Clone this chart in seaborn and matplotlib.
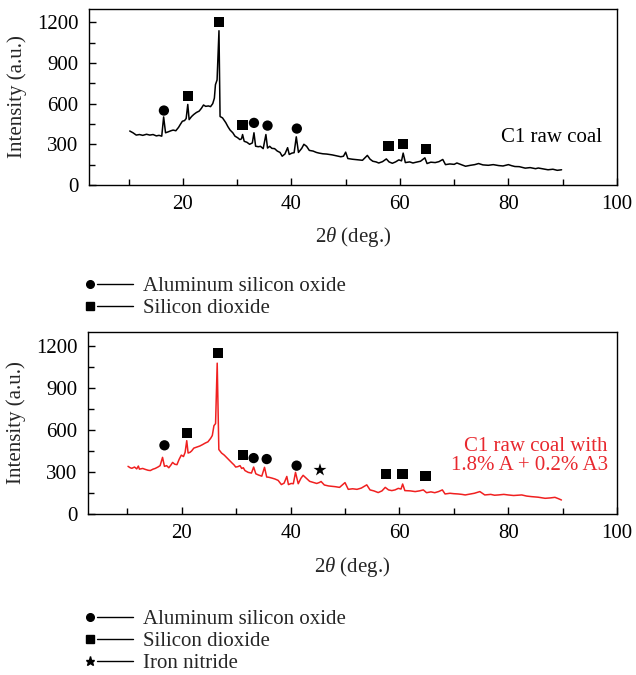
import numpy as np
import pandas as pd
import matplotlib
matplotlib.use("Agg")
import matplotlib.pyplot as plt
import seaborn as sns
from matplotlib.lines import Line2D
from matplotlib.legend_handler import HandlerBase
from matplotlib.ticker import MultipleLocator, FixedLocator

# ---------------- data ----------------
raw_x = [10.2, 10.8, 11.4, 12.0, 12.6, 13.3, 13.9, 14.5, 15.1, 15.6, 16.1, 16.45, 16.8, 17.3, 17.8, 18.2,
         18.7, 19.2, 19.5, 19.9, 20.3, 20.6, 20.9, 21.15, 21.6, 22.0, 22.5, 23.0, 23.4, 23.8, 24.2, 24.7,
         25.1, 25.5, 25.8, 26.0, 26.3, 26.65, 26.85, 27.3, 27.9, 28.3, 28.7, 29.2, 29.6, 30.1, 30.5, 30.8,
         31.0, 31.3, 31.8, 32.3, 32.8, 33.1, 33.4, 33.9, 34.3, 34.8, 35.3, 35.6, 36.0, 36.4, 36.9, 37.4,
         37.9, 38.3, 38.8, 39.3, 39.6, 40.1, 40.5, 40.9, 41.3, 41.9, 42.3, 42.8, 43.3, 44.0, 44.6, 45.1,
         45.8, 46.5, 47.5, 48.3, 49.1, 49.6, 50.0, 50.4, 51.2, 52.2, 53.1, 54.0, 54.5, 55.0, 55.6, 56.1,
         56.8, 57.5, 58.0, 58.6, 59.2, 59.8, 60.3, 60.6, 61.0, 61.8, 62.4, 62.9, 63.8, 64.6, 65.0, 65.7,
         66.5, 67.2, 67.9, 68.4, 69.2, 70.0, 70.5, 71.3, 72.1, 73.0, 73.8, 74.5, 75.3, 76.3, 77.2, 78.2,
         79.0, 80.0, 80.6, 81.2, 82.0, 83.1, 84.0, 85.0, 85.5, 86.5, 87.3, 88.2, 89.0, 89.8]
raw_y = [398, 385, 368, 372, 366, 374, 368, 372, 362, 366, 360, 502, 385, 392, 400, 405,
         400, 425, 445, 470, 475, 490, 594, 482, 505, 520, 535, 545, 565, 590, 580, 583,
         578, 600, 640, 740, 775, 1138, 505, 495, 460, 430, 405, 385, 360, 348, 335, 340,
         372, 322, 315, 300, 310, 385, 286, 282, 285, 268, 372, 272, 285, 270, 268, 250,
         240, 212, 228, 275, 225, 235, 238, 355, 240, 270, 300, 285, 255, 250, 240, 235,
         230, 228, 222, 215, 208, 212, 242, 195, 190, 186, 182, 218, 190, 175, 170, 162,
         172, 192, 170, 160, 170, 185, 178, 235, 165, 170, 162, 167, 175, 200, 158, 168,
         165, 172, 188, 150, 155, 152, 162, 150, 138, 145, 150, 158, 148, 145, 150, 143,
         140, 150, 142, 136, 135, 124, 128, 120, 125, 118, 112, 116, 108, 112]

add_x = [10.1, 10.5, 10.8, 11.3, 11.7, 12.0, 12.2, 12.8, 13.3, 13.8, 14.2, 14.7, 15.1, 15.6, 16.0, 16.45,
         16.8, 17.2, 17.6, 18.0, 18.3, 18.7, 19.1, 19.5, 19.9, 20.3, 20.6, 20.9, 21.15, 21.5, 21.8, 22.2,
         22.8, 23.3, 23.8, 24.3, 24.8, 25.3, 25.6, 25.9, 26.2, 26.5, 26.8, 27.3, 27.8, 28.3, 28.7, 29.2,
         29.6, 29.9, 30.3, 30.7, 31.0, 31.3, 31.6, 32.2, 32.8, 33.2, 33.6, 34.1, 34.7, 35.2, 35.6, 36.0,
         36.5, 37.1, 37.7, 38.3, 38.8, 39.3, 39.6, 40.1, 40.5, 40.9, 41.4, 41.9, 42.3, 42.9, 43.5, 44.2,
         44.8, 45.3, 45.6, 46.2, 47.0, 48.2, 49.0, 50.0, 50.6, 51.4, 52.2, 53.0, 54.0, 54.6, 55.3, 56.1,
         56.8, 57.4, 58.0, 58.6, 59.2, 59.8, 60.3, 60.6, 61.0, 62.0, 62.9, 63.7, 64.4, 65.0, 65.8, 66.5,
         67.2, 67.9, 68.4, 69.3, 70.0, 70.8, 71.5, 72.1, 73.0, 73.8, 74.8, 75.7, 76.8, 77.5, 78.2, 79.2,
         80.0, 81.0, 82.5, 83.4, 84.3, 85.5, 86.8, 87.8, 88.6, 89.2, 89.8]
add_y = [340, 330, 326, 335, 322, 342, 320, 325, 318, 312, 310, 320, 325, 335, 345, 404,
         340, 345, 330, 350, 368, 355, 352, 390, 420, 410, 440, 523, 435, 440, 450, 470,
         478, 485, 495, 506, 515, 540, 560, 630, 645, 1076, 460, 435, 420, 400, 385, 365,
         350, 335, 338, 345, 325, 330, 310, 297, 292, 335, 287, 278, 270, 333, 264, 262,
         257, 250, 240, 210, 220, 268, 210, 218, 216, 297, 216, 255, 276, 255, 233, 225,
         218, 225, 232, 207, 200, 195, 190, 224, 176, 180, 176, 185, 208, 172, 165, 153,
         165, 190, 172, 167, 172, 183, 178, 214, 167, 165, 160, 165, 172, 152, 158, 152,
         160, 172, 143, 148, 145, 143, 140, 136, 142, 148, 160, 136, 140, 134, 136, 140,
         136, 132, 136, 128, 124, 120, 112, 115, 119, 110, 100]

# phase markers (top panel)
raw_circle_x = [16.5, 33.1, 35.6, 41.0]
raw_circle_y = [549, 458, 438, 416]
raw_square_x = [20.9, 26.7, 31.0, 57.9, 60.6, 64.8]
raw_square_y = [656, 1200, 440, 289, 301, 264]

# phase markers (bottom panel)
add_circle_x = [16.8, 33.2, 35.6, 41.1]
add_circle_y = [490, 399, 392, 345]
add_square_x = [20.9, 26.6, 31.3, 57.5, 60.6, 64.8]
add_square_y = [577, 1148, 421, 283, 283, 271]
add_star_x = [45.4]
add_star_y = [314]

phase_labels = ["Aluminum silicon oxide", "Silicon dioxide", "Iron nitride"]
x_ticks = [20, 40, 60, 80, 100]
y_ticks = [0, 300, 600, 900, 1200]

# ---------------- style ----------------
sns.set_style("ticks")
plt.rcParams["font.family"] = ["Liberation Serif", "DejaVu Serif"]
plt.rcParams["mathtext.fontset"] = "custom"
plt.rcParams["mathtext.rm"] = "Liberation Serif"
plt.rcParams["mathtext.it"] = "Liberation Serif:italic"
FS = 15
plt.rcParams["font.size"] = FS

RED = "#f02020"
TEXT_RED = "#e8282e"

fig = plt.figure(figsize=(6.36, 6.75), dpi=100)
ax1 = fig.add_axes([0.140, 0.726, 0.830, 0.261])
ax2 = fig.add_axes([0.138, 0.2385, 0.832, 0.270])

df_raw = pd.DataFrame({"x": raw_x, "y": raw_y})
df_add = pd.DataFrame({"x": add_x, "y": add_y})

sns.lineplot(data=df_raw, x="x", y="y", ax=ax1, color="black", lw=1.1,
             estimator=None, sort=False)
sns.lineplot(data=df_add, x="x", y="y", ax=ax2, color=RED, lw=1.1,
             estimator=None, sort=False)

def markers(ax, xs, ys, marker, size):
    sns.scatterplot(x=xs, y=ys, ax=ax, marker=marker, s=size, color="black",
                    edgecolor="none", linewidth=0, zorder=5)

markers(ax1, raw_circle_x, raw_circle_y, "o", 55)
markers(ax1, raw_square_x, raw_square_y, "s", 55)
markers(ax2, add_circle_x, add_circle_y, "o", 55)
markers(ax2, add_square_x, add_square_y, "s", 55)
markers(ax2, add_star_x, add_star_y, "*", 95)

for ax in (ax1, ax2):
    ax.set_xlim(2.7, 100)
    ax.set_ylim(0, 1300)
    ax.xaxis.set_major_locator(FixedLocator(x_ticks))
    ax.xaxis.set_minor_locator(FixedLocator([10, 30, 50, 70, 90]))
    ax.yaxis.set_major_locator(FixedLocator(y_ticks))
    ax.yaxis.set_minor_locator(MultipleLocator(150))
    ax.tick_params(axis="both", which="both", direction="in", length=5, width=1,
                   labelsize=FS, colors="black", top=False, right=False, pad=7.5)
    ax.tick_params(axis="both", which="minor", length=4)
    for s in ax.spines.values():
        s.set_visible(True)
        s.set_color("black")
        s.set_linewidth(1.0)
    ax.set_xlabel("2$\\it{\\theta}$ (deg.)", fontsize=FS, labelpad=8)
    ax.set_ylabel("Intensity (a.u.)", fontsize=FS, labelpad=7)

ax1.text(0.972, 0.267, "C1 raw coal", transform=ax1.transAxes, ha="right",
         va="center", fontsize=FS, color="black")
ax2.text(0.983, 0.321, "C1 raw coal with\n1.8% A + 0.2% A3", transform=ax2.transAxes,
         ha="right", va="center", fontsize=FS, color=TEXT_RED, linespacing=1.0,
         multialignment="right")


class MarkerLineHandler(HandlerBase):
    def create_artists(self, legend, orig_handle, xdescent, ydescent, width, height,
                       fontsize, trans):
        y = height / 2 - ydescent
        x0 = -xdescent
        m = Line2D([x0 + 3], [y], marker=orig_handle.get_marker(),
                   markersize=orig_handle.get_markersize(), color="black",
                   linestyle="none")
        l = Line2D([x0 + 8, x0 + width], [y, y], color="black", lw=1.0)
        m.set_transform(trans)
        l.set_transform(trans)
        return [m, l]


h_circle = Line2D([], [], marker="o", markersize=5.5, color="black", linestyle="none")
h_square = Line2D([], [], marker="s", markersize=5.5, color="black", linestyle="none")
h_star = Line2D([], [], marker="*", markersize=6.5, color="black", linestyle="none")

hm = {Line2D: MarkerLineHandler()}
fig.legend([h_circle, h_square], phase_labels[:2], loc="upper left",
           bbox_to_anchor=(0.118, 1 - 266 / 675), frameon=False, handler_map=hm,
           handlelength=2.3, handletextpad=0.45, labelspacing=0.12, fontsize=FS,
           borderpad=0.0)
fig.legend([h_circle, h_square, h_star], phase_labels, loc="upper left",
           bbox_to_anchor=(0.118, 1 - 599 / 675), frameon=False, handler_map=hm,
           handlelength=2.3, handletextpad=0.45, labelspacing=0.12, fontsize=FS,
           borderpad=0.0)

fig.savefig("out.png", dpi=100)
